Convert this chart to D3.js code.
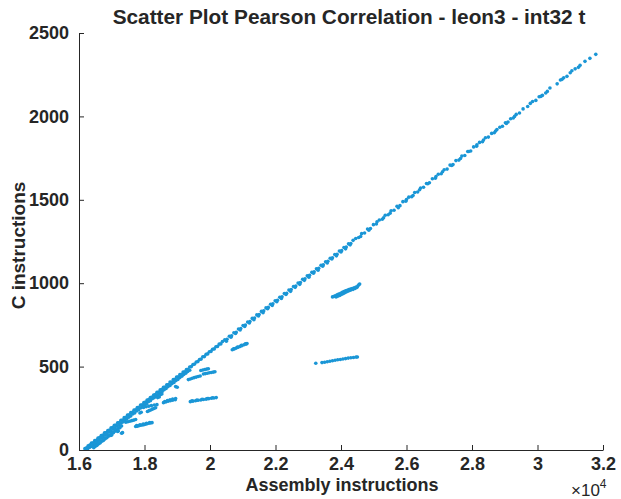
<!DOCTYPE html>
<html>
<head>
<meta charset="utf-8">
<script src="https://cdn.jsdelivr.net/npm/d3@7"></script>
<style>
  html, body { margin: 0; padding: 0; background: #fff; }
  svg { display: block; }
  text { font-family: "Liberation Sans", Arial, Helvetica, sans-serif; font-weight: bold; fill: #262626; }
</style>
</head>
<body>
<svg id="chart" width="621" height="499"></svg>
<script>
// ---- Data ----
const title = "Scatter Plot Pearson Correlation - leon3 - int32 t";
const xLabel = "Assembly instructions";
const yLabel = "C instructions";
const xTicks = [16000, 18000, 20000, 22000, 24000, 26000, 28000, 30000, 32000];
const xTickLabels = ["1.6", "1.8", "2", "2.2", "2.4", "2.6", "2.8", "3", "3.2"];
const yTicks = [0, 500, 1000, 1500, 2000, 2500];

// main diagonal band, lower-left dense part
const mainA = [
  [16180,8],[16230,13],[16280,25],[16330,29],[16380,41],[16430,43],[16480,56],[16530,58],[16580,71],[16630,74],
  [16680,87],[16730,89],[16780,103],[16830,104],[16880,117],[16930,119],[16980,133],[17030,134],[17080,148],[17130,150],
  [17180,163],[17230,165],[17280,178],[17330,180],[17380,194],[17430,195],[17480,209],[17530,211],[17580,224],[17630,226],
  [17680,239],[17730,241],[17780,255],[17830,256],[17880,270],[17930,271],[17980,285],[18030,287],[18080,300],[18130,302],
  [18180,315],[18230,317],[18280,330],[18330,332],[18380,346],[18430,348],[18480,361],[18530,363],[18580,376],[18630,378],
  [18680,391],[18730,393],[18780,407],[18830,408],[18880,422],[18930,424],[18980,437],[19030,439],[19080,452],[19130,454],
  [19180,467],[19230,469],[19280,483],[19330,484],[19380,498],[19430,500],[19480,513],[19530,515],[19580,528],[19630,530],
  [19680,543],[19730,545],[19780,559],[19830,560],[19880,574],[19930,576],[19980,589],[20030,591],[20080,604],[20130,606],
  [20180,619],[20230,621],[20280,635],[20330,636],[20380,650]
];
// second row that thickens the lower-left band
const mainA2 = [
  [16260,6],[16320,15],[16380,22],[16440,33],[16500,40],[16560,51],[16620,59],[16680,70],[16740,77],[16800,88],
  [16860,95],[16920,106],[16980,113],[17040,124],[17100,131],[17160,143],[17220,150],[17280,161],[17340,168],[17400,179],
  [17460,186],[17520,197],[17580,204],[17640,216],[17700,222],[17760,234],[17820,241],[17880,252],[17940,259],[18000,270],
  [18060,277],[18120,289],[18180,296],[18240,307],[18300,314],[18360,325],[18420,332],[18480,343],[18540,350],[18600,361],
  [18660,369],[18720,380],[18780,387],[18840,398],[18900,405],[18960,416],[19020,423],[19080,434],[19140,442],[19200,453],
  [19260,460],[19320,471],[19380,478]
];
// lower sub-branch in the lower-left
const lowBranch = [
  [16450,14],[16500,22],[16550,28],[16600,37],[16650,43],[16700,53],[16750,58],[16800,68],[16850,73],[16900,83],
  [16950,88],[17000,98],[17050,104],[17100,113],[17150,119],[17200,129],[17250,134],[17300,144]
];
// middle section of the main band
const mainB = [
  [20450,660],[20520,664],[20590,682],[20660,685],[20730,703],[20800,706],[20870,725],[20940,728],[21010,746],[21080,749],
  [21150,767],[21220,770],[21290,789],[21360,791],[21430,810],[21500,812],[21570,831],[21640,834],[21710,852],[21780,855],
  [21850,874],[21920,877],[21990,895],[22060,898],[22130,916],[22200,919],[22270,938],[22340,940],[22410,959],[22480,962],
  [22550,980],[22620,983],[22690,1001],[22760,1004],[22830,1023],[22900,1026],[22970,1044],[23040,1047],[23110,1065],[23180,1068],
  [23250,1087],[23320,1089],[23390,1108],[23460,1110],[23530,1129],[23600,1132],[23670,1150],[23740,1153],[23810,1172],[23880,1174],
  [23950,1193],[24020,1195],[24090,1214],[24160,1217],[24230,1236],[24300,1238],[24370,1257],
  [20500,652],[20640,676],[20780,698],[20920,719],[21060,740],[21200,762],[21340,781],[21480,804],[21620,823],[21760,847],
  [21900,866],[22040,889],[22180,908],[22320,932],[22460,951],[22600,975],[22740,993],[22880,1017],[23020,1036],[23160,1060],
  [23300,1078],[23440,1102],[23580,1121],[23720,1145],[23860,1164],[24000,1187],[24140,1206],[24280,1230]
];
// upper-middle section
const mainC = [
  [24450,1268],[24540,1274],[24630,1297],[24720,1301],[24810,1325],[24900,1328],[24990,1351],[25080,1355],[25170,1379],[25260,1383],
  [25350,1407],[25440,1410],[25530,1434],[25620,1437],[25710,1461],[25800,1465],[25890,1489],[25980,1492],[26070,1516],[26160,1519],
  [26250,1544],[26340,1547],[26430,1571],[26520,1575],[26610,1598],[26700,1602],[26790,1626],[26880,1629],[26970,1653],[27060,1656],
  [27150,1680],[27240,1684],[27330,1708],[27420,1711],[27510,1735],[27600,1738],[27690,1762],[27780,1766],[27870,1790],[27960,1793],
  [28050,1817],[28140,1821],[28230,1844],[28320,1848],[28410,1872],[28500,1876],
  [24600,1280],[24850,1318],[25100,1368],[25300,1392],[25500,1420],[25750,1452],[26000,1502],[26200,1526],[26400,1560],[26650,1596],
  [26900,1640],[27100,1668],[27380,1706],[27650,1748],[27900,1790],[28150,1830],[28350,1858]
];
// sparse top-right section
const mainD = [
  [28600,1898],[28680,1902],[28760,1921],[28850,1935],[28930,1941],[29020,1962],[29100,1966],[29180,1986],[29260,1990],[29350,2012],
  [29450,2020],[29560,2045],[29700,2059],[29850,2089],[29950,2096],[30050,2118],[30150,2126],[30300,2150],[30380,2170],[30600,2195],
  [30700,2218],[30800,2231],[30900,2240],[31000,2262],[31150,2285],[31250,2294],[31450,2330],[31600,2348],[31780,2372],
  [28720,1912],[29050,1958],[29300,2000],[29780,2078],[30100,2120],[30250,2140],[30750,2222],[31050,2274],[31300,2306]
];
// small off-diagonal dashes in the lower-left
const dashesLow = [
  [16970,87],[17000,90],[17180,111],[17200,114],[17300,100],[17330,104],
  [17430,166],[17490,169],[17550,172],[17610,176],[17670,179],[17730,183],
  [17730,141],[17780,143],[17830,145],[17880,148],[17930,150],[17980,152],[18030,155],[18080,157],[18130,160],[18180,162],[18230,164],
  [17760,146],[17860,151],[17960,156],[18060,160],[18160,165],
  [17860,222],[17900,226],
  [18090,231],[18140,236],[18190,240],[18240,245],[18290,249],[18340,253],
  [17970,255],[18050,259],[18130,263],[18210,266],[18300,270],[18380,272],
  [18400,314],[18450,318],[18490,332],[18530,336],
  [18580,284],[18650,288],[18720,292],[18790,295],[18860,299],[18940,302],
  [18620,291],[18700,296],[18780,301],[18860,305],[18950,309],
  [18950,380],[19000,376]
];
// dashes near x = 2.0e4
const dashesMid = [
  [19400,290],[19480,293],[19560,295],[19640,298],[19720,300],[19800,303],[19880,305],[19960,308],[20040,310],[20120,312],[20190,314],
  [19450,295],[19600,299],[19760,304],[19920,309],[20080,313],
  [19340,422],[19400,426],[19460,430],[19520,434],[19580,437],[19640,441],[19700,444],
  [19800,456],[19860,458],[19920,460],[19980,463],[20040,465],[20100,467],[20150,469],
  [19720,477],[19780,480],[19840,483],[19900,485],[19950,487],
  [20680,601],[20740,606],[20800,611],[20860,616],[20920,621],[20980,626],[21040,631],[21100,635],[21130,638],
  [20720,607],[20840,617],[20960,628],[21080,637]
];
// cluster and segment near x = 2.4e4
const cluster24 = [
  [23740,918],[23780,920],[23820,925],[23850,918],[23880,930],[23900,922],[23930,935],[23960,927],[23990,940],[24010,932],
  [24040,945],[24060,937],[24090,950],[24110,942],[24140,955],[24160,947],[24190,958],[24210,952],[24240,962],[24260,956],
  [24290,965],[24310,960],[24340,968],[24370,963],[24400,972],[24430,968],[24460,977],[24490,975],[24520,985],[24550,992],[24570,995]
];
const segment24 = [
  [23230,520],[23420,524],[23500,526],[23580,529],[23660,532],[23740,535],[23820,538],[23900,541],[23980,543],[24060,546],
  [24140,548],[24220,551],[24300,553],[24380,555],[24460,557],[24500,558]
];

const allPoints = [].concat(mainA, mainA2, lowBranch, mainB, mainC, mainD, dashesLow, dashesMid, cluster24, segment24);

// ---- Layout ----
const svg = d3.select("#chart");
const L = 79, R = 603, T = 33, B = 450;
const x = d3.scaleLinear().domain([16000, 32000]).range([L, R]);
const y = d3.scaleLinear().domain([0, 2500]).range([B, T]);
const axisColor = "#262626";
const dotColor = "#1a96d6";

// points
svg.append("g").selectAll("circle").data(allPoints).enter().append("circle")
  .attr("cx", d => x(d[0])).attr("cy", d => y(d[1])).attr("r", 1.8)
  .attr("fill", dotColor);

// x axis (ticks inward)
const xAxis = d3.axisBottom(x).tickValues(xTicks).tickSizeInner(-5).tickSizeOuter(0)
  .tickFormat((d, i) => xTickLabels[i]).tickPadding(7);
const gx = svg.append("g").attr("transform", `translate(0,${B})`).call(xAxis);
gx.select(".domain").attr("stroke", axisColor);
gx.selectAll(".tick line").attr("stroke", axisColor);
gx.selectAll(".tick text").style("font-size", "18px").attr("fill", axisColor);

const yAxis = d3.axisLeft(y).tickValues(yTicks).tickSizeInner(-5).tickSizeOuter(0)
  .tickFormat(d3.format("d")).tickPadding(10);
const gy = svg.append("g").attr("transform", `translate(${L},0)`).call(yAxis);
gy.select(".domain").attr("stroke", axisColor);
gy.selectAll(".tick line").attr("stroke", axisColor);
gy.selectAll(".tick text").style("font-size", "18px").attr("fill", axisColor);

// title
svg.append("text").attr("x", 349).attr("y", 24).attr("text-anchor", "middle")
  .style("font-size", "20.8px").text(title);

// axis labels
svg.append("text").attr("x", 342).attr("y", 491).attr("text-anchor", "middle")
  .style("font-size", "18px").text(xLabel);
svg.append("text").attr("transform", `translate(25,${(T + B) / 2 + 4}) rotate(-90)`).attr("text-anchor", "middle")
  .style("font-size", "19px").text(yLabel);

// exponent label
const ex = svg.append("text").attr("x", 571).attr("y", 496).style("font-size", "17px").style("font-weight", "normal");
ex.append("tspan").text("\u00d710");
ex.append("tspan").attr("dy", -8).style("font-size", "12px").text("4");
</script>
</body>
</html>
